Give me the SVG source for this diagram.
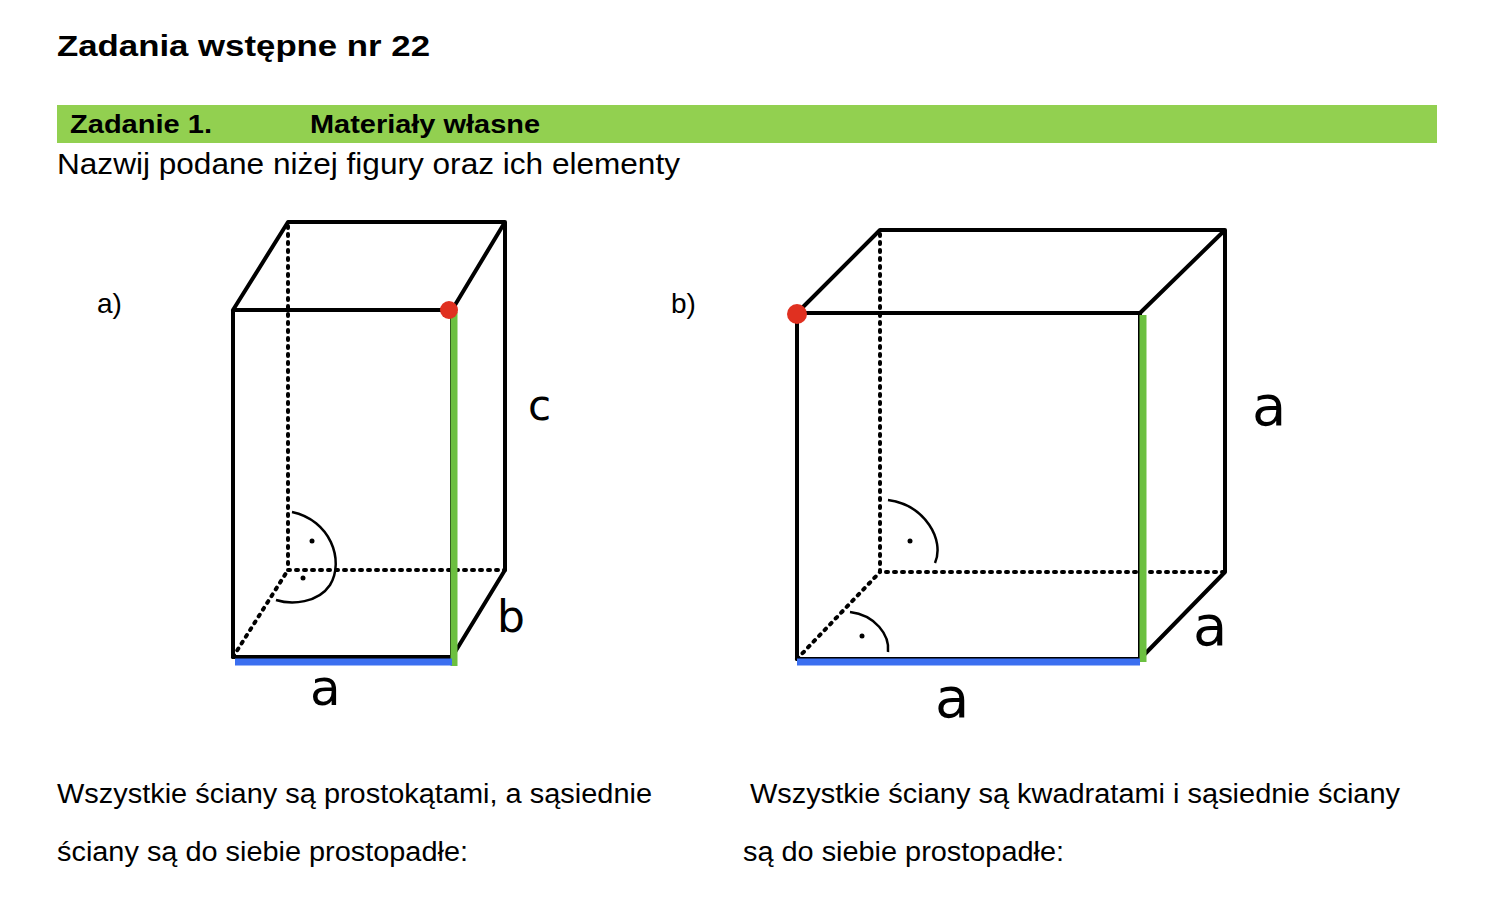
<svg xmlns="http://www.w3.org/2000/svg" width="1500" height="924" viewBox="0 0 1500 924">
<style>
.t{font-family:"Liberation Sans",Arial,sans-serif;fill:#000}
.e{stroke:#000;stroke-width:4;fill:none;stroke-linecap:round;stroke-linejoin:round}
.d{stroke:#000;stroke-width:4;fill:none;stroke-dasharray:2 6;stroke-linecap:round}
.h{font-family:"DejaVu Sans",sans-serif;fill:#000}
.a{stroke:#000;stroke-width:2.5;fill:none}
</style>
<rect width="1500" height="924" fill="#fff"/>
<text class="t" x="57" y="56" font-size="30" font-weight="bold" textLength="373" lengthAdjust="spacingAndGlyphs">Zadania wstępne nr 22</text>
<rect x="57" y="105" width="1380" height="38" fill="#92d050"/>
<text class="t" x="70" y="133" font-size="26" font-weight="bold" textLength="142" lengthAdjust="spacingAndGlyphs">Zadanie 1.</text>
<text class="t" x="310" y="133" font-size="26" font-weight="bold" textLength="230" lengthAdjust="spacingAndGlyphs">Materiały własne</text>
<text class="t" x="57" y="174" font-size="29" textLength="623" lengthAdjust="spacingAndGlyphs">Nazwij podane niżej figury oraz ich elementy</text>
<text class="t" x="97" y="313" font-size="28">a)</text>
<text class="t" x="671" y="313" font-size="28">b)</text>
<g id="cuboid">
<path class="d" d="M288 226V570H505M233 657L288 570"/>
<path class="e" d="M233 310H452V657H233ZM233 310L288 222H505L452 310M505 222V570L452 657"/>
<line x1="454" y1="312" x2="454" y2="666" stroke="#6cc040" stroke-width="7"/>
<line x1="235" y1="662" x2="452" y2="662" stroke="#3b6ff0" stroke-width="7"/>
<circle cx="449" cy="310" r="9" fill="#e03020"/>
<path class="a" d="M292 512C330 520 345 560 330 585C318 603 292 605 276 600"/>
<circle cx="312" cy="541" r="2.5"/><circle cx="303" cy="578" r="2.5"/>
<text class="h" x="528" y="420" font-size="42">c</text>
<text class="h" x="497" y="632" font-size="44">b</text>
<text class="h" x="310" y="705" font-size="50">a</text>
</g>
<g id="cube">
<path class="d" d="M880 234V572H1225M797 659L880 572"/>
<path class="e" d="M797 313H1140V659H797ZM797 313L880 230H1225L1140 313M1225 230V572L1140 659"/>
<line x1="1143" y1="315" x2="1143" y2="662" stroke="#6cc040" stroke-width="7"/>
<line x1="797" y1="662" x2="1140" y2="662" stroke="#3b6ff0" stroke-width="7"/>
<circle cx="797" cy="314" r="10" fill="#e03020"/>
<path class="a" d="M888 500C925 505 945 540 935 563"/>
<path class="a" d="M850 612C875 615 890 635 888 652"/>
<circle cx="910" cy="541" r="2.5"/><circle cx="862" cy="636" r="2.5"/>
<text class="h" x="1252" y="425" font-size="56">a</text>
<text class="h" x="1193" y="645" font-size="56">a</text>
<text class="h" x="935" y="717" font-size="56">a</text>
</g>
<text class="t" x="57" y="803" font-size="27" textLength="595" lengthAdjust="spacingAndGlyphs">Wszystkie ściany są prostokątami, a sąsiednie</text>
<text class="t" x="57" y="861" font-size="27" textLength="411" lengthAdjust="spacingAndGlyphs">ściany są do siebie prostopadłe:</text>
<text class="t" x="750" y="803" font-size="27" textLength="650" lengthAdjust="spacingAndGlyphs">Wszystkie ściany są kwadratami i sąsiednie ściany</text>
<text class="t" x="743" y="861" font-size="27" textLength="321" lengthAdjust="spacingAndGlyphs">są do siebie prostopadłe:</text>
</svg>
